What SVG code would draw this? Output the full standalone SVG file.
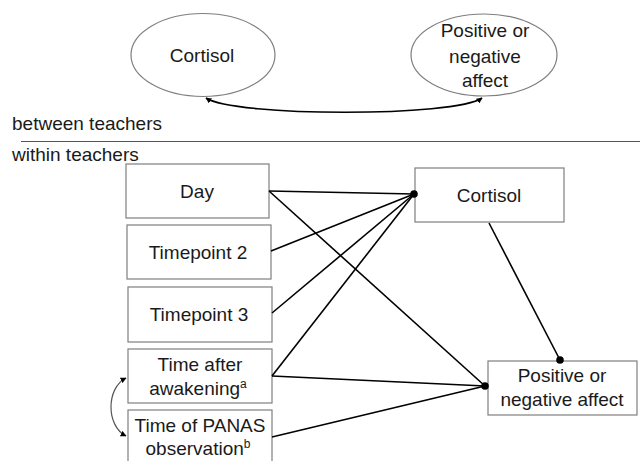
<svg xmlns="http://www.w3.org/2000/svg" width="640" height="461" viewBox="0 0 640 461">
<defs>
<style>
text{font-family:"Liberation Sans",Arial,sans-serif;font-size:19px;fill:#1a1a1a;text-anchor:middle}
.lbl{text-anchor:start}
.box{fill:#fff;stroke:#7f7f7f;stroke-width:1.2}
.ell{fill:#fff;stroke:#7f7f7f;stroke-width:1.2}
.path{stroke:#000;stroke-width:1.6;fill:none}
.cov{fill:none;stroke:#000;stroke-width:1.6}
.cov2{fill:none;stroke:#555;stroke-width:1.2}
.dot{fill:#000}
.sup{font-size:12px}
</style>
<marker id="ah" viewBox="0 0 10 10" refX="9" refY="5" markerWidth="6" markerHeight="6" orient="auto-start-reverse" markerUnits="userSpaceOnUse">
<path d="M0,0 L10,5 L0,10 z" fill="#000"/>
</marker>
</defs>
<rect width="640" height="461" fill="#fff"/>

<g id="between-cortisol">
<ellipse class="ell" cx="203" cy="55" rx="72" ry="41.5"/>
<text x="202" y="62">Cortisol</text>
</g>
<g id="between-affect">
<ellipse class="ell" cx="484" cy="55" rx="73" ry="41"/>
<text x="485" y="37">Positive or</text>
<text x="485" y="63">negative</text>
<text x="485" y="87">affect</text>
</g>

<g id="levels">
<text class="lbl" x="12" y="130">between teachers</text>
<line x1="21" y1="141.5" x2="640" y2="141.5" stroke="#555" stroke-width="1.2"/>
<text class="lbl" x="12" y="161">within teachers</text>
</g>

<g id="day"><rect class="box" x="126" y="164" width="143" height="54"/><text x="197" y="198">Day</text></g>
<g id="tp2"><rect class="box" x="127" y="225" width="144" height="54"/><text x="198" y="259">Timepoint 2</text></g>
<g id="tp3"><rect class="box" x="128" y="287" width="144" height="55"/><text x="199" y="321">Timepoint 3</text></g>
<g id="awake"><rect class="box" x="128" y="349" width="144" height="54"/><text x="200" y="371">Time after</text><text x="198" y="395">awakening<tspan class="sup" dy="-7">a</tspan></text></g>
<g id="panas"><rect class="box" x="128" y="410" width="144" height="56"/><text x="200" y="432">Time of PANAS</text><text x="198" y="455">observation<tspan class="sup" dy="-7">b</tspan></text></g>
<g id="cortisol"><rect class="box" x="415" y="168" width="149" height="54"/><text x="489" y="202">Cortisol</text></g>
<g id="affect"><rect class="box" x="488" y="361" width="149" height="54"/><text x="562" y="382">Positive or</text><text x="562" y="406">negative affect</text></g>

<g id="connectors">
<path class="cov" d="M206,98 C235,117 455,117 482,98" marker-start="url(#ah)" marker-end="url(#ah)"/>
<path class="cov2" d="M126,378 C106,388 106,426 126,436" marker-start="url(#ah)" marker-end="url(#ah)"/>
<line class="path" x1="269" y1="191" x2="414" y2="194"/>
<line class="path" x1="271" y1="251" x2="414" y2="194"/>
<line class="path" x1="272" y1="313" x2="414" y2="194"/>
<line class="path" x1="272" y1="376" x2="414" y2="194"/>
<line class="path" x1="269" y1="191" x2="485" y2="386"/>
<line class="path" x1="272" y1="376" x2="485" y2="386"/>
<line class="path" x1="272" y1="437" x2="485" y2="386"/>
<line class="path" x1="489" y1="223" x2="560" y2="360"/>
<circle class="dot" cx="414" cy="194" r="3.8"/>
<circle class="dot" cx="485" cy="386" r="3.8"/>
<circle class="dot" cx="560" cy="360" r="3.8"/>
</g>
</svg>
